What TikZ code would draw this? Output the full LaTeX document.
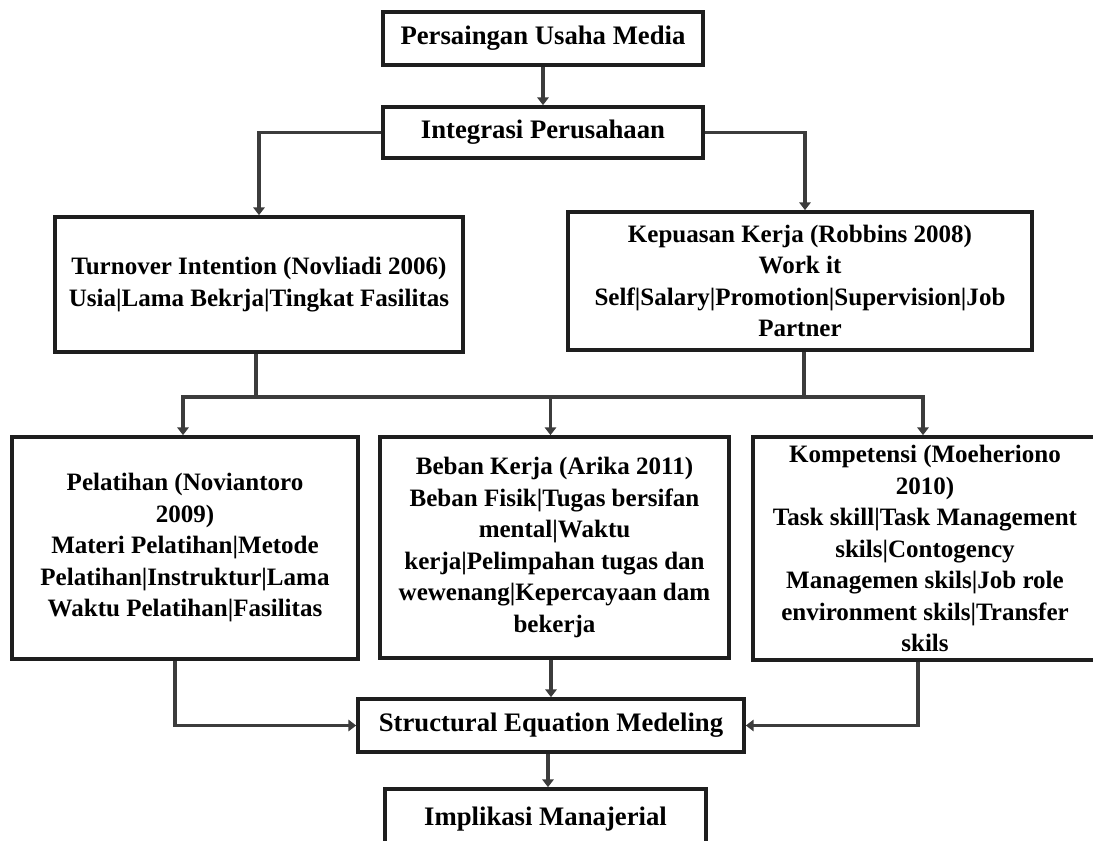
\documentclass[tikz,border=0pt]{standalone}
\usepackage{fontspec}
\setmainfont{Liberation Serif}
\usetikzlibrary{arrows.meta}

\definecolor{boxline}{HTML}{1E1E1E}
\definecolor{wire}{HTML}{3C3C3C}

\tikzset{
  box/.style={draw=boxline, line width=2.6pt, fill=white, align=center, inner sep=0pt,
    font=\fontsize{17.8}{22.4}\selectfont\bfseries},
  single/.style={font=\fontsize{19}{23}\selectfont\bfseries},
  flow/.style={draw=wire, line width=2.4pt, -{Triangle[width=8pt,length=5.5pt]}},
  link/.style={draw=wire, line width=2.4pt}
}

\begin{document}
\begin{tikzpicture}
  \useasboundingbox (0,0) rectangle (27.325,-21.025);

  % Top boxes
  \node[box, single, minimum width=8cm, minimum height=1.325cm] (persaingan) at (13.575,-0.9625) {Persaingan Usaha Media};
  \node[box, single, minimum width=8cm, minimum height=1.275cm] (integrasi) at (13.575,-3.3125) {Integrasi Perusahaan};

  % Second row
  \node[box, minimum width=10.2cm, minimum height=3.375cm] (turnover) at (6.475,-7.1125)
    {Turnover Intention (Novliadi 2006)\\Usia|Lama Bekrja|Tingkat Fasilitas};
  \node[box, minimum width=11.6cm, minimum height=3.45cm] (kepuasan) at (20.0,-7.025)
    {Kepuasan Kerja (Robbins 2008)\\Work it\\Self|Salary|Promotion|Supervision|Job\\Partner};

  % Third row
  \node[box, minimum width=8.65cm, minimum height=5.55cm] (pelatihan) at (4.625,-13.7)
    {Pelatihan (Noviantoro\\2009)\\Materi Pelatihan|Metode\\Pelatihan|Instruktur|Lama\\Waktu Pelatihan|Fasilitas};
  \node[box, minimum width=8.725cm, minimum height=5.525cm] (beban) at (13.8625,-13.6875)
    {Beban Kerja (Arika 2011)\\Beban Fisik|Tugas bersifan\\mental|Waktu\\kerja|Pelimpahan tugas dan\\wewenang|Kepercayaan dam\\bekerja};
  \node[box, minimum width=8.6cm, minimum height=5.575cm] (kompetensi) at (23.125,-13.7125)
    {Kompetensi (Moeheriono\\2010)\\Task skill|Task Management\\skils|Contogency\\Managemen skils|Job role\\environment skils|Transfer\\skils};

  % Bottom boxes
  \node[box, single, minimum width=9.65cm, minimum height=1.325cm] (sem) at (13.775,-18.1375) {Structural Equation Medeling};
  \node[box, single, minimum width=8.025cm, minimum height=1.525cm] (implikasi) at (13.6375,-20.4875) {Implikasi Manajerial};

  % Connectors
  \coordinate (bus) at (0,-9.925);
  \draw[flow] (persaingan) -- (integrasi);
  \draw[flow] (integrasi.west) -| (turnover.north);
  \draw[flow] (integrasi.east) -| ([xshift=0.125cm]kepuasan.north);
  \draw[link] ([xshift=-0.075cm]turnover.south) -- ([xshift=-0.075cm]turnover.south |- bus);
  \draw[link] ([xshift=0.1cm]kepuasan.south) -- ([xshift=0.1cm]kepuasan.south |- bus);
  \draw[link, line cap=rect] ([xshift=-0.05cm]pelatihan.north |- bus) -- ([xshift=-0.05cm]kompetensi.north |- bus);
  \draw[flow] ([xshift=-0.05cm]pelatihan.north |- bus) -- ([xshift=-0.05cm]pelatihan.north);
  \draw[flow] ([xshift=-0.1cm]beban.north |- bus) -- ([xshift=-0.1cm]beban.north);
  \draw[flow] ([xshift=-0.05cm]kompetensi.north |- bus) -- ([xshift=-0.05cm]kompetensi.north);

  \draw[flow] ([xshift=-0.25cm]pelatihan.south) |- (sem.west);
  \draw[flow] ([xshift=-0.175cm]kompetensi.south) |- (sem.east);
  \draw[flow] (sem.north |- beban.south) -- (sem.north);
  \draw[flow] ([xshift=-0.075cm]sem.south) -- ([xshift=-0.075cm]sem.south |- implikasi.north);
\end{tikzpicture}
\end{document}
